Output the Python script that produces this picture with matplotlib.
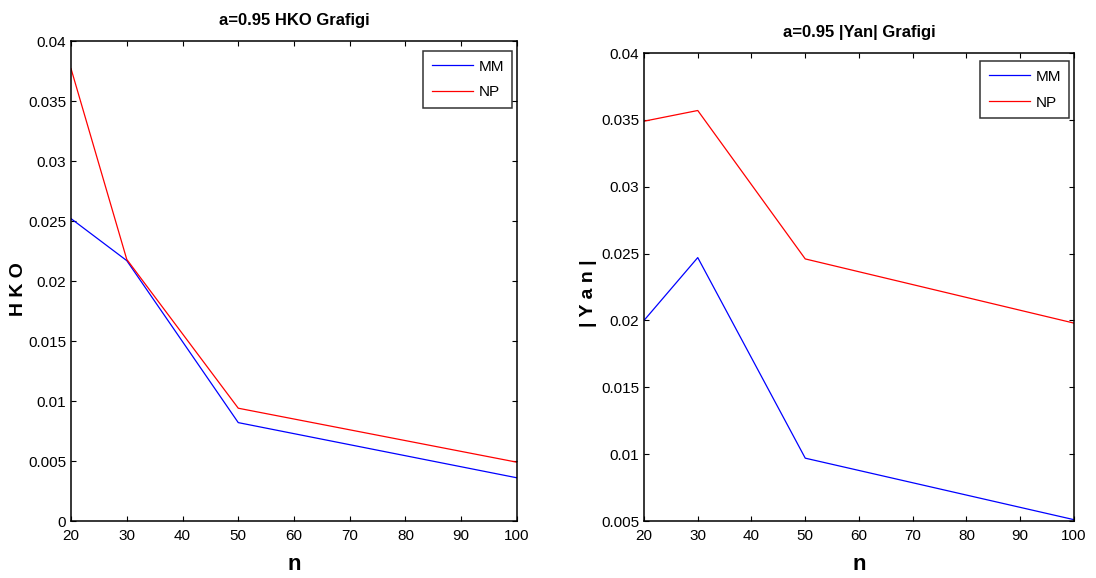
import matplotlib
matplotlib.use("Agg")
import matplotlib.pyplot as plt

n = [20, 30, 50, 100]
hko_mm = [0.0252, 0.0217, 0.0082, 0.0036]
hko_np = [0.0377, 0.0218, 0.0094, 0.0049]
yan_mm = [0.0200, 0.0247, 0.0097, 0.0051]
yan_np = [0.0349, 0.0357, 0.0246, 0.0198]

xticks = [20, 30, 40, 50, 60, 70, 80, 90, 100]
hko_yticks = [0, 0.005, 0.01, 0.015, 0.02, 0.025, 0.03, 0.035, 0.04]
hko_ylabels = ['0', '0.005', '0.01', '0.015', '0.02', '0.025', '0.03', '0.035', '0.04']
yan_yticks = [0.005, 0.01, 0.015, 0.02, 0.025, 0.03, 0.035, 0.04]
yan_ylabels = ['0.005', '0.01', '0.015', '0.02', '0.025', '0.03', '0.035', '0.04']

plt.rcParams['font.family'] = ['Liberation Sans', 'DejaVu Sans']

fig = plt.figure(figsize=(10.96, 5.78), dpi=100)
ax1 = fig.add_axes([0.0648, 0.0986, 0.4069, 0.8304])
ax2 = fig.add_axes([0.5876, 0.0986, 0.3923, 0.8097])

def style(ax, ylim, yticks, ylabels, title, ylabel, anchor, ylab_xy):
    ax.set_xlim(20, 100)
    ax.set_ylim(*ylim)
    ax.set_xticks(xticks)
    ax.set_xticklabels([str(v) for v in xticks], fontsize=11)
    ax.set_yticks(yticks)
    ax.set_yticklabels(ylabels, fontsize=11)
    ax.tick_params(axis='both', direction='in', top=True, right=True, length=3.5, width=0.8)
    ax.tick_params(axis='x', pad=6)
    ax.tick_params(axis='y', pad=3.5)
    for s in ax.spines.values():
        s.set_linewidth(1.1)
    ax.set_title(title, fontsize=12, fontweight='bold', pad=11.5)
    ax.set_xlabel('n', fontsize=16, fontweight='bold', labelpad=8)
    ax.set_ylabel(ylabel, fontsize=14, fontweight='bold')
    ax.yaxis.set_label_coords(*ylab_xy)
    leg = ax.legend(loc='upper right', bbox_to_anchor=anchor, borderaxespad=0,
                    fontsize=11, frameon=True, fancybox=False, edgecolor='black',
                    borderpad=0.55, handlelength=2.7, handletextpad=0.35, labelspacing=0.78)
    leg.get_frame().set_linewidth(1.1)

ax1.plot(n, hko_mm, color='blue', lw=0.9, label='MM')
ax1.plot(n, hko_np, color='red', lw=0.9, label='NP')
style(ax1, (0, 0.04), hko_yticks, hko_ylabels, 'a=0.95 HKO Grafigi', 'H K O',
      (0.9895, 0.979), (-0.099, 0.483))

ax2.plot(n, yan_mm, color='blue', lw=0.9, label='MM')
ax2.plot(n, yan_np, color='red', lw=0.9, label='NP')
style(ax2, (0.005, 0.04), yan_yticks, yan_ylabels, 'a=0.95 |Yan| Grafigi', '| Y a n |',
      (0.989, 0.982), (-0.109, 0.487))

fig.savefig('out.png', dpi=100)
